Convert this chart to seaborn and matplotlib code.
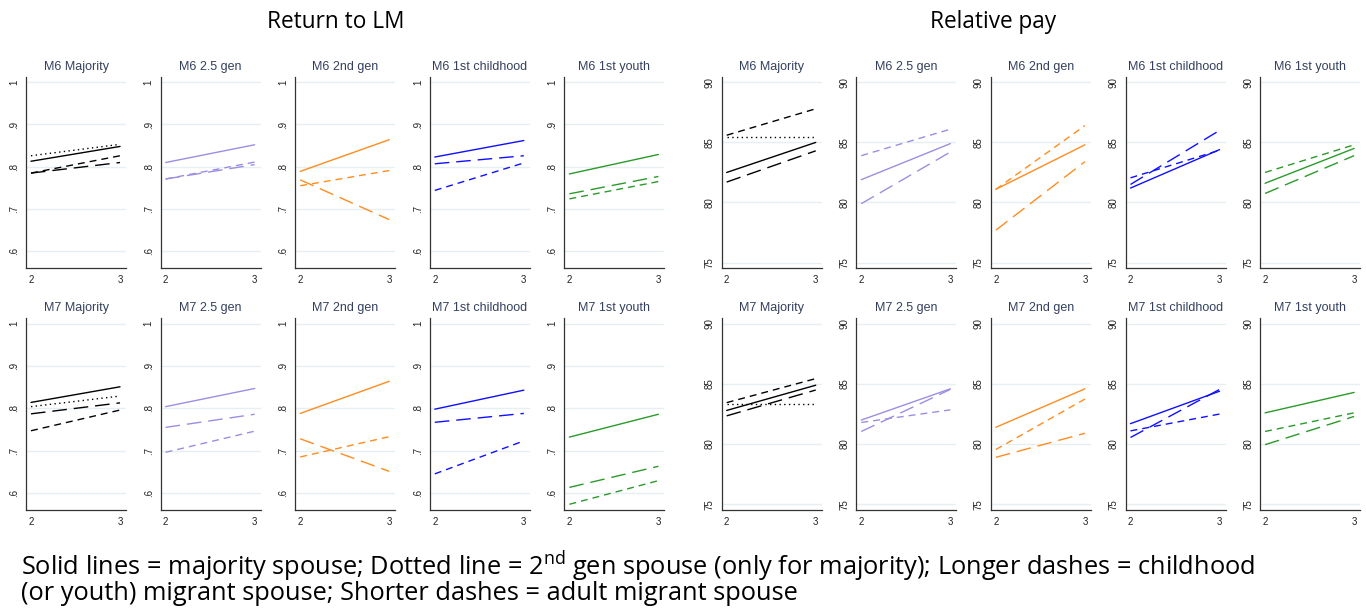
"""Return to LM / Relative pay by spouse origin, M6 and M7"""
import pandas as pd
import matplotlib.pyplot as plt
import seaborn as sns

# ─── data (start at wave 2, end at wave 3) ───
groups = ["Majority", "2.5 gen", "2nd gen", "1st childhood", "1st youth"]
waves = [2, 3]
colors = ["#000000", "#9a8fe3", "#ff8c1f", "#1010ff", "#2a9a2a"]

# Return to LM
lm_m6_solid = [(0.813, 0.848), (0.810, 0.852), (0.789, 0.864), (0.823, 0.862), (0.783, 0.829)]
lm_m6_dotted = [(0.826, 0.853), None, None, None, None]
lm_m6_long = [(0.785, 0.810), (0.771, 0.805), (0.769, 0.675), (0.807, 0.826), (0.736, 0.777)]
lm_m6_short = [(0.785, 0.826), (0.771, 0.811), (0.755, 0.791), (0.744, 0.809), (0.724, 0.765)]

lm_m7_solid = [(0.814, 0.851), (0.804, 0.847), (0.788, 0.864), (0.798, 0.843), (0.732, 0.786)]
lm_m7_dotted = [(0.804, 0.829), None, None, None, None]
lm_m7_long = [(0.787, 0.813), (0.755, 0.786), (0.728, 0.651), (0.767, 0.788), (0.613, 0.663)]
lm_m7_short = [(0.747, 0.796), (0.696, 0.746), (0.685, 0.733), (0.645, 0.723), (0.573, 0.629)]

# Relative pay
pay_m6_solid = [(82.5, 85.0), (81.9, 84.9), (81.1, 84.8), (81.2, 84.4), (81.6, 84.5)]
pay_m6_dotted = [(85.45, 85.45), None, None, None, None]
pay_m6_long = [(81.7, 84.3), (79.9, 84.2), (77.7, 83.4), (81.5, 86.0), (80.75, 83.9)]
pay_m6_short = [(85.6, 87.8), (83.9, 86.1), (81.1, 86.4), (82.05, 84.35), (82.5, 84.8)]

pay_m7_solid = [(82.8, 84.9), (82.0, 84.6), (81.4, 84.6), (81.7, 84.4), (82.6, 84.3)]
pay_m7_dotted = [(83.3, 83.3), None, None, None, None]
pay_m7_long = [(82.35, 84.5), (81.05, 84.55), (78.9, 80.9), (80.55, 84.55), (79.95, 82.3)]
pay_m7_short = [(83.45, 85.45), (81.8, 82.85), (79.55, 83.75), (81.1, 82.5), (81.05, 82.6)]

lm_ticks = [0.6, 0.7, 0.8, 0.9, 1.0]
lm_ticklabels = [".6", ".7", ".8", ".9", "1"]
pay_ticks = [75, 80, 85, 90]
pay_ticklabels = ["75", "80", "85", "90"]

dash_map = {"majority": "", "2nd gen": (1, 2.4), "childhood": (10.5, 5), "adult": (5, 3.6)}

sns.set_style("white")
plt.rcParams["font.family"] = ["Liberation Sans", "DejaVu Sans"]
plt.rcParams["mathtext.fontset"] = "custom"
plt.rcParams["mathtext.rm"] = "Open Sans"

fig = plt.figure(figsize=(13.66, 6.12), dpi=100)
W, H = 1366, 612


def panel_df(solid, dotted, long_, short, i):
    rows = []
    for name, series in [("majority", solid), ("2nd gen", dotted),
                         ("childhood", long_), ("adult", short)]:
        if series[i] is None:
            continue
        for w, v in zip(waves, series[i]):
            rows.append({"wave": w, "value": v, "spouse": name})
    return pd.DataFrame(rows)


blocks = [
    # (left px, top px, model, data, ylim, ticks, labels)
    (26, 76.7, "M6", (lm_m6_solid, lm_m6_dotted, lm_m6_long, lm_m6_short), (0.56, 1.013), lm_ticks, lm_ticklabels),
    (26, 318.3, "M7", (lm_m7_solid, lm_m7_dotted, lm_m7_long, lm_m7_short), (0.56, 1.013), lm_ticks, lm_ticklabels),
    (721.7, 76.7, "M6", (pay_m6_solid, pay_m6_dotted, pay_m6_long, pay_m6_short), (74.53, 90.47), pay_ticks, pay_ticklabels),
    (721.7, 318.3, "M7", (pay_m7_solid, pay_m7_dotted, pay_m7_long, pay_m7_short), (74.53, 90.47), pay_ticks, pay_ticklabels),
]

for left0, top, model, data, ylim, ticks, labels in blocks:
    for i, g in enumerate(groups):
        left = left0 + i * 134.6
        ax = fig.add_axes([left / W, 1 - (top + 191.5) / H, 100 / W, 191.5 / H])
        d = panel_df(*data, i)
        sns.lineplot(data=d, x="wave", y="value", style="spouse", dashes=dash_map,
                     color=colors[i], lw=1.0, legend=False, ax=ax)
        ax.set_xlim(1.944, 3.067)
        ax.set_ylim(*ylim)
        ax.set_xticks(waves)
        ax.set_xticklabels(["2", "3"], fontsize=7)
        ax.set_yticks(ticks)
        ax.set_yticklabels(labels, fontsize=7, rotation=90, va="center")
        ax.tick_params(axis="both", length=3, width=0.7, pad=2, colors="#222222", direction="out")
        ax.yaxis.grid(True, color="#e6eff1", lw=1.0)
        ax.set_axisbelow(True)
        for s in ["top", "right"]:
            ax.spines[s].set_visible(False)
        for s in ["left", "bottom"]:
            ax.spines[s].set_color("#333333")
            ax.spines[s].set_linewidth(0.9)
        ax.set_xlabel("")
        ax.set_ylabel("")
        ax.set_title(f"{model} {g}", fontsize=9, color="#34405e", pad=5)

fig.text(336 / W, 1 - 28 / H, "Return to LM", fontsize=16.3, family="Open Sans",
         color="black", ha="center", va="baseline")
fig.text(993 / W, 1 - 28 / H, "Relative pay", fontsize=16.3, family="Open Sans",
         color="black", ha="center", va="baseline")

fig.text(21 / W, 1 - 575 / H,
         "Solid lines = majority spouse; Dotted line = 2$^{\\mathrm{nd}}$ gen spouse (only for majority); "
         "Longer dashes = childhood",
         fontsize=18.3, family="Open Sans", color="black", ha="left", va="baseline")
fig.text(21 / W, 1 - 600 / H,
         "(or youth) migrant spouse; Shorter dashes = adult migrant spouse",
         fontsize=18.3, family="Open Sans", color="black", ha="left", va="baseline")

fig.savefig("out.png", dpi=100)
